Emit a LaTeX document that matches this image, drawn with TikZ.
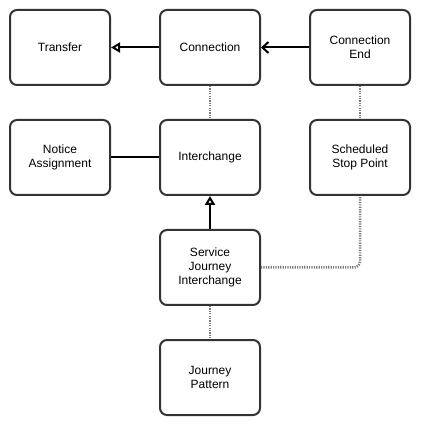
\documentclass[tikz,border=0pt]{standalone}
\usepackage{fontspec}
\setmainfont{Liberation Sans}
\usetikzlibrary{arrows.meta}
\definecolor{boxline}{HTML}{333333}
\definecolor{dotline}{HTML}{7a7a7a}
\begin{document}
\begin{tikzpicture}[x=1pt,y=-1pt,
  box/.style={draw=boxline, line width=2pt, rounded corners=7pt, fill=white,
    minimum width=100pt, minimum height=75pt, inner sep=0pt,
    align=center, font=\fontsize{12}{14}\selectfont, text=black},
  solidline/.style={draw=black, line width=2pt},
  dotlink/.style={draw=dotline, line width=2.5pt, dash pattern=on 1.2pt off 1.2pt},
  tri/.style={-{Triangle[open,fill=white,length=9pt,width=10pt,line width=2pt]}},
  barb/.style={-{Straight Barb[length=6pt,width=11pt,line width=2pt]}}
]
\useasboundingbox (0,0) rectangle (436,435);
\node[box] (transfer) at (60,47.5) {Transfer};
\node[box] (connection) at (210,47.5) {Connection};
\node[box] (connend) at (360,47.5) {Connection\\End};
\node[box] (notice) at (60,157.5) {Notice\\Assignment};
\node[box] (interchange) at (210,157.5) {Interchange};
\node[box] (ssp) at (360,157.5) {Scheduled\\Stop Point};
\node[box] (sji) at (210,267.5) {Service\\Journey\\Interchange};
\node[box] (jp) at (210,377.5) {Journey\\Pattern};
\coordinate (corner) at (360,267.5);

\draw[dotlink] (connection.south) -- (interchange.north);
\draw[dotlink] (connend.south) -- (ssp.north);
\draw[dotlink] (sji.south) -- (jp.north);
\draw[dotlink, rounded corners=6pt] (sji.east) -- (corner) -- (ssp.south);

\draw[solidline, tri] (connection.west) -- (transfer.east);
\draw[solidline, barb] (connend.west) -- (connection.east);
\draw[solidline] (notice.east) -- (interchange.west);
\draw[solidline, tri] (sji.north) -- (interchange.south);
\end{tikzpicture}
\end{document}
